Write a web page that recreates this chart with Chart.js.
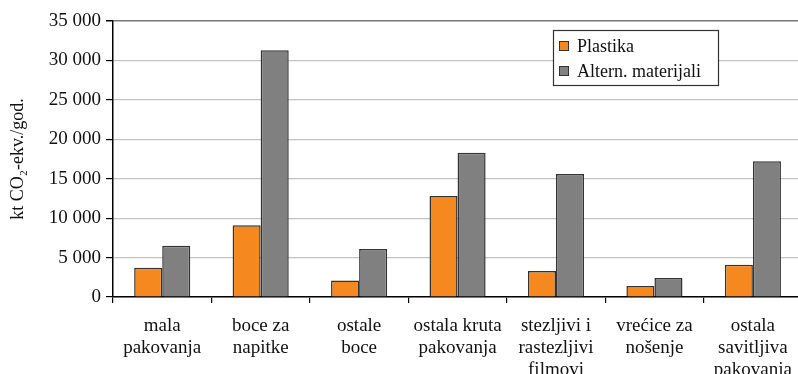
<!DOCTYPE html>
<html>
<head>
<meta charset="utf-8">
<script src="https://cdn.jsdelivr.net/npm/chart.js@4/dist/chart.umd.min.js"></script>
<style>
  html, body { margin: 0; padding: 0; background: #fff; overflow: hidden; width: 798px; height: 374px; }
  #wrap { position: relative; width: 804px; height: 374px; }
</style>
</head>
<body>
<div id="wrap"><canvas id="c"></canvas></div>
<script>
const categories = [
  ["mala", "pakovanja"],
  ["boce za", "napitke"],
  ["ostale", "boce"],
  ["ostala kruta", "pakovanja"],
  ["stezljivi i", "rastezljivi", "filmovi"],
  ["vrećice za", "nošenje"],
  ["ostala", "savitljiva", "pakovanja"]
];
const plastika = [3700, 9100, 2100, 12800, 3300, 1400, 4100];
const alternMaterijali = [6500, 31300, 6100, 18300, 15600, 2400, 17200];
const seriesNames = ["Plastika", "Altern. materijali"];
const yAxisTitle = "kt CO₂-ekv./god.";

const FONT = "'Liberation Serif', 'DejaVu Serif', serif";
Chart.defaults.font.family = FONT;
Chart.defaults.color = '#111';

const boxLegend = {
  id: 'boxLegend',
  afterDraw(chart) {
    const ctx = chart.ctx;
    const x = 553, y = 30, w = 165, h = 55;
    ctx.save();
    ctx.fillStyle = '#fff';
    ctx.fillRect(x, y, w, h);
    ctx.strokeStyle = '#333';
    ctx.lineWidth = 1.2;
    ctx.strokeRect(x + 0.5, y + 0.5, w, h);
    ctx.font = "18px " + FONT;
    ctx.textBaseline = 'middle';
    chart.data.datasets.forEach((ds, i) => {
      const cy = 46 + i * 25;
      ctx.fillStyle = ds.backgroundColor;
      ctx.fillRect(559, cy - 5, 10, 10);
      ctx.strokeStyle = '#333';
      ctx.lineWidth = 1;
      ctx.strokeRect(559.5, cy - 4.5, 9, 9);
      ctx.fillStyle = '#111';
      ctx.fillText(ds.label, 577, cy + 1);
    });
    ctx.restore();
  }
};

new Chart(document.getElementById('c'), {
  type: 'bar',
  data: {
    labels: categories,
    datasets: [
      { label: seriesNames[0], data: plastika, backgroundColor: '#F5891F', borderColor: '#333', borderWidth: 1.5, categoryPercentage: 0.57, barPercentage: 1.0 },
      { label: seriesNames[1], data: alternMaterijali, backgroundColor: '#808080', borderColor: '#333', borderWidth: 1.5, categoryPercentage: 0.57, barPercentage: 1.0 }
    ]
  },
  options: {
    responsive: true,
    maintainAspectRatio: false,
    animation: false,
    devicePixelRatio: 1,
    layout: { padding: { top: 21, right: 1, left: 0, bottom: 0 } },
    plugins: { legend: { display: false }, tooltip: { enabled: false } },
    scales: {
      x: {
        offset: true,
        grid: { display: true, drawOnChartArea: false, drawTicks: true, tickLength: 6, color: '#000', lineWidth: 1.2, offset: true },
        border: { display: true, color: '#000', width: 1.5 },
        ticks: { color: '#111', font: { family: FONT, size: 19, lineHeight: 1.16 }, padding: 12, maxRotation: 0, autoSkip: false },
        afterFit(scale) { scale.height = 77; }
      },
      y: {
        min: 0, max: 35000,
        ticks: {
          stepSize: 5000,
          color: '#111',
          font: { family: FONT, size: 19 },
          padding: 5,
          callback: v => String(v).replace(/\B(?=(\d{3})+(?!\d))/g, ' ')
        },
        grid: {
          color: ctx => ctx.tick && ctx.tick.value === 35000 ? '#777' : '#c4c4c4',
          lineWidth: ctx => ctx.tick && ctx.tick.value === 35000 ? 1.5 : 1.2,
          tickColor: '#000', tickLength: 7, drawTicks: true
        },
        border: { display: true, color: '#000', width: 1.5 },
        title: { display: true, text: yAxisTitle, color: '#111', font: { family: FONT, size: 18 }, padding: { top: 7, bottom: 0 } },
        afterFit(scale) { scale.width = 113; }
      }
    }
  },
  plugins: [boxLegend]
});
</script>
</body>
</html>
